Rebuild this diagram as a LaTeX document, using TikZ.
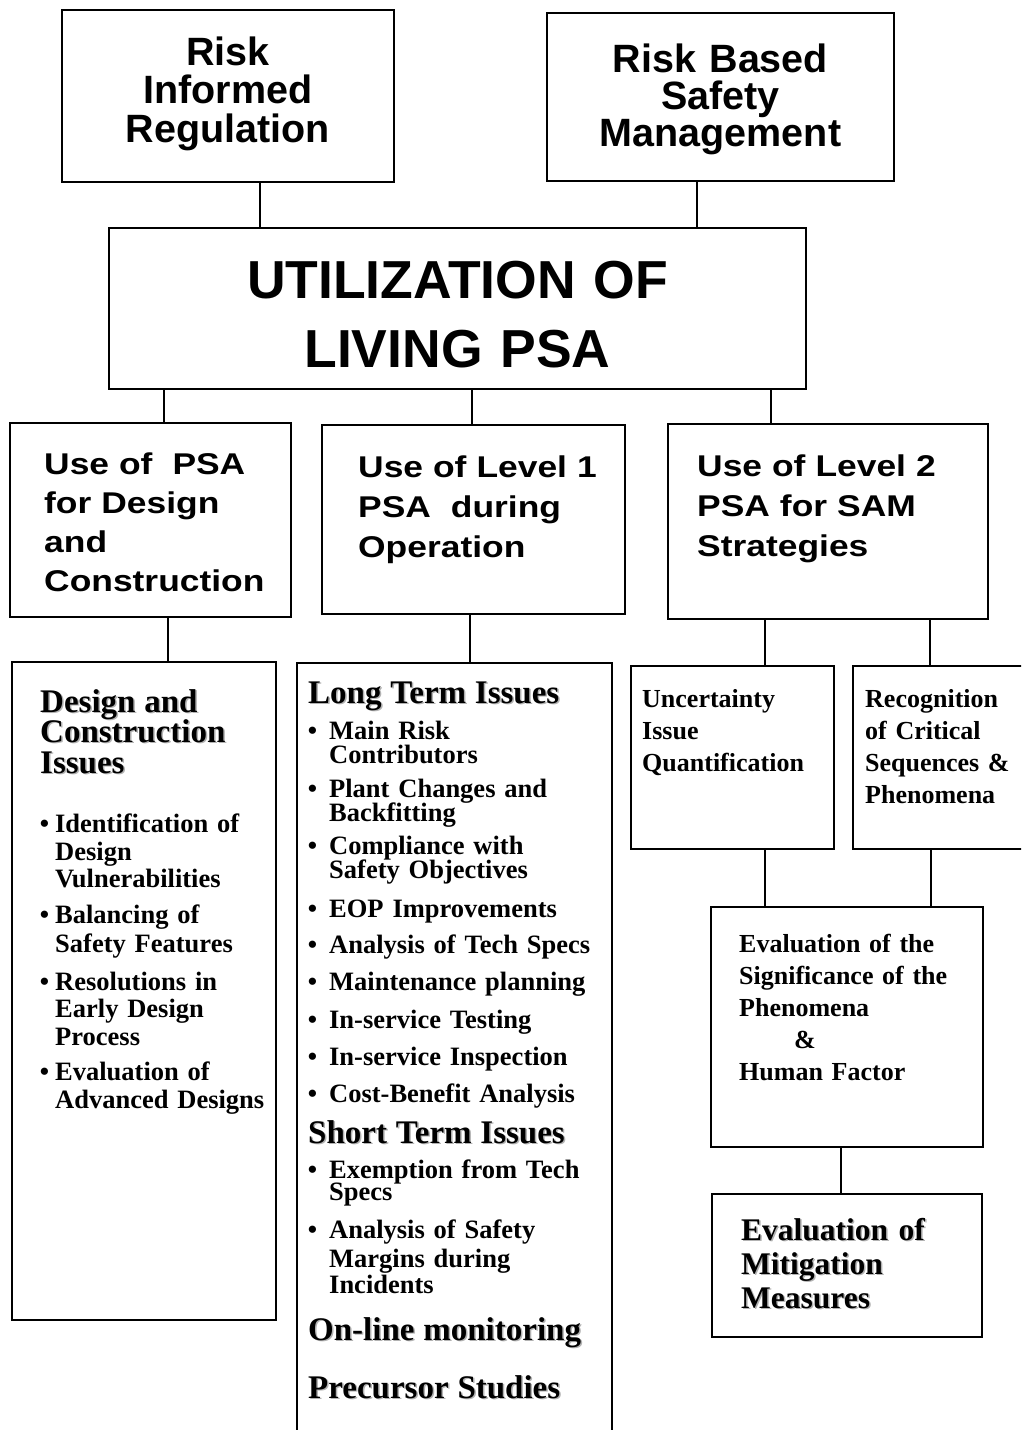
\documentclass[tikz,border=0pt]{standalone}
\usepackage{fontspec}
\setmainfont{Liberation Serif}
\setsansfont{Liberation Sans}
\newfontfamily\widesans[FakeStretch=1.18]{Liberation Sans}
\lineskiplimit=-100pt
\normallineskiplimit=-100pt
\newcommand{\shd}[1]{\leavevmode\rlap{\kern1.5pt\raisebox{-1.5pt}{\textcolor{black!30}{#1}}}#1}
\newcommand{\ttl}[1]{{\fontsize{33}{28}\selectfont\shd{#1}}}
\newcommand{\itm}{\leavevmode\llap{\textbullet\hspace{6pt}}}
\newcommand{\itmb}{\leavevmode\llap{\textbullet\hspace{12pt}}}

\begin{document}
\begin{tikzpicture}
	[x=1pt,y=-1pt,
	box/.style={draw,line width=2.6pt,inner sep=0pt,outer sep=0pt},
	link/.style={line width=2.6pt},
	top text/.style={anchor=base,align=center,text width=330pt,inner sep=0pt,font=\sffamily\bfseries\fontsize{39.5}{38.5}\selectfont},
	use text/.style={anchor=base west,align=left,text width=270pt,inner sep=0pt,font=\widesans\bfseries\fontsize{30}{39}\selectfont},
	item text/.style={anchor=base west,align=left,text width=280pt,inner sep=0pt,font=\rmfamily\bfseries\fontsize{26.5}{28}\selectfont}]
	\useasboundingbox (0,0) rectangle (1021,1430);
	\fill[white] (0,0) rectangle (1021,1430);
	\clip (0,0) rectangle (1021,1430);

	\node [box,minimum width=332pt,minimum height=172pt] (rir) at (228,96) {};
	\node [box,minimum width=347pt,minimum height=168pt] (rbsm) at (720.5,97) {};
	\node [box,minimum width=697pt,minimum height=161pt] (util) at (457.5,308.5) {};

	\node [box,minimum width=281pt,minimum height=194pt] (design) at (150.5,520) {};
	\node [box,minimum width=303pt,minimum height=189pt] (level1) at (473.5,519.5) {};
	\node [box,minimum width=320pt,minimum height=195pt] (level2) at (828,521.5) {};

	\node [box,minimum width=264pt,minimum height=658pt] (dci) at (144,991) {};
	\node [box,minimum width=315pt,minimum height=797pt] (issues) at (454.5,1061.5) {};
	\node [box,minimum width=203pt,minimum height=183pt] (uncert) at (732.5,757.5) {};
	\node [box,minimum width=207pt,minimum height=183pt] (recog) at (956.5,757.5) {};
	\node [box,minimum width=272pt,minimum height=240pt] (signif) at (847,1027) {};
	\node [box,minimum width=270pt,minimum height=143pt] (mitig) at (847,1265.5) {};

	\node [top text] (rir text) at (228,65) {Risk\\Informed\\Regulation};
	\node [top text,font=\sffamily\bfseries\fontsize{39.5}{37}\selectfont] (rbsm text) at (720.5,72) {Risk Based\\Safety\\Management};
	\node [top text,text width=690pt,font=\sffamily\bfseries\fontsize{53.5}{69}\selectfont] (util text) at (457.5,298) {UTILIZATION OF\\LIVING PSA};

	\node [use text] (design text) at (44,474) {Use of~~PSA\\for Design\\and\\Construction};
	\node [use text,font=\widesans\bfseries\fontsize{30}{40}\selectfont] (level1 text) at (358,477) {Use of Level 1\\PSA~~during\\Operation};
	\node [use text,font=\widesans\bfseries\fontsize{30}{40}\selectfont] (level2 text) at (697,476) {Use of Level 2\\PSA for SAM\\Strategies};

	\node [item text,text width=215pt] (dci text) at (55,712) {%
		\hspace*{-15pt}\ttl{Design and}\\[2pt]
		\hspace*{-15pt}\ttl{Construction}\\[3pt]
		\hspace*{-15pt}\ttl{Issues}\\[31pt]
		\itm Identification of\\
		Design\\[-1pt]
		Vulnerabilities\\[8pt]
		\itm Balancing of\\[1pt]
		Safety Features\\[10pt]
		\itm Resolutions in\\[-1pt]
		Early Design\\
		Process\\[7pt]
		\itm Evaluation of\\
		Advanced Designs};

	\node [item text,font=\rmfamily\bfseries\fontsize{26.5}{24}\selectfont] (issues text) at (329,703) {%
		\hspace*{-21pt}\ttl{Long Term Issues}\\[12pt]
		\itmb Main Risk\\
		Contributors\\[10pt]
		\itmb Plant Changes and\\
		Backfitting\\[9pt]
		\itmb Compliance with\\
		Safety Objectives\\[15pt]
		\itmb EOP Improvements\\[12pt]
		\itmb Analysis of Tech Specs\\[13pt]
		\itmb Maintenance planning\\[14pt]
		\itmb In-service Testing\\[13pt]
		\itmb In-service Inspection\\[13pt]
		\itmb Cost-Benefit Analysis\\[17pt]
		\hspace*{-21pt}\ttl{Short Term Issues}\\[11pt]
		\itmb Exemption from Tech\\[-2pt]
		Specs\\[14pt]
		\itmb Analysis of Safety\\[5pt]
		Margins during\\[2pt]
		Incidents\\[23pt]
		\hspace*{-21pt}\ttl{On-line monitoring}\\[34pt]
		\hspace*{-21pt}\ttl{Precursor Studies}};

	\node [item text,text width=185pt,font=\rmfamily\bfseries\fontsize{26}{32}\selectfont] (uncert text) at (642,707) {Uncertainty\\Issue\\Quantification};
	\node [item text,text width=170pt,font=\rmfamily\bfseries\fontsize{26}{32}\selectfont] (recog text) at (865,707) {Recognition\\of Critical\\Sequences \&\\Phenomena};
	\node [item text,text width=240pt,font=\rmfamily\bfseries\fontsize{26}{32}\selectfont] (signif text) at (739,952) {Evaluation of the\\Significance of the\\Phenomena\\\hspace*{55pt}\&\\Human Factor};
	\node [item text,text width=235pt,font=\rmfamily\bfseries\fontsize{31.5}{34}\selectfont] (mitig text) at (741,1240) {\shd{Evaluation of}\\\shd{Mitigation}\\\shd{Measures}};

	\path[link]
	(260,0 |- rir.south) edge (260,0 |- util.north)
	(697,0 |- rbsm.south) edge (697,0 |- util.north)
	(164,0 |- util.south) edge (164,0 |- design.north)
	(472,0 |- util.south) edge (472,0 |- level1.north)
	(771,0 |- util.south) edge (771,0 |- level2.north)
	(168,0 |- design.south) edge (168,0 |- dci.north)
	(470,0 |- level1.south) edge (470,0 |- issues.north)
	(765,0 |- level2.south) edge (765,0 |- uncert.north)
	(930,0 |- level2.south) edge (930,0 |- recog.north)
	(765,0 |- uncert.south) edge (765,0 |- signif.north)
	(931,0 |- recog.south) edge (931,0 |- signif.north)
	(841,0 |- signif.south) edge (841,0 |- mitig.north)
	;
\end{tikzpicture}
\end{document}
